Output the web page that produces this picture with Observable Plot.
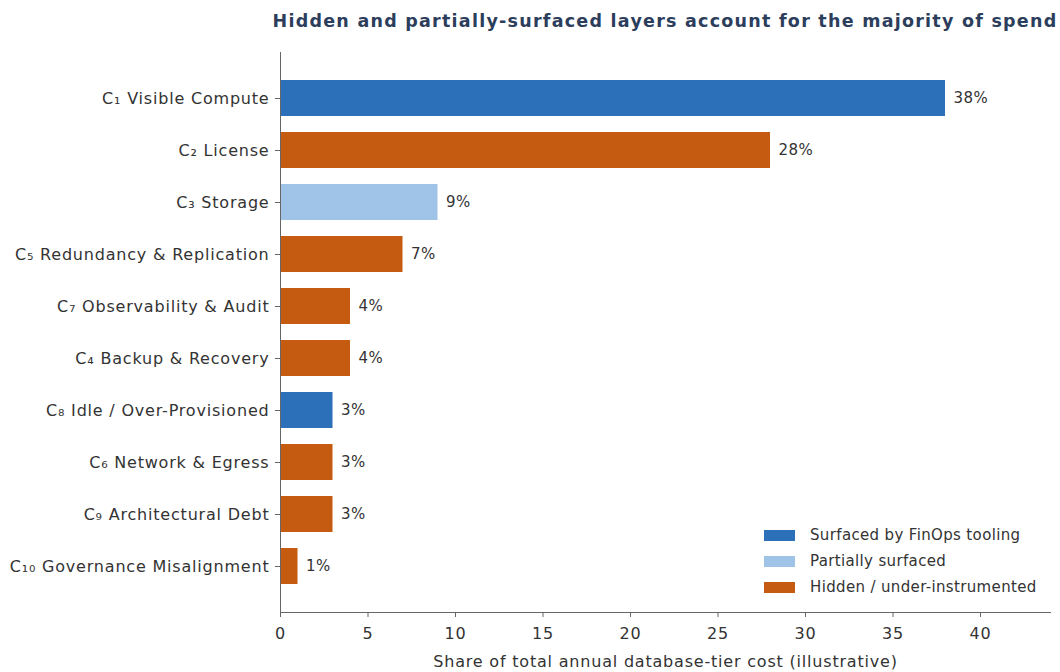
<!DOCTYPE html>
<html>
<head>
<meta charset="utf-8">
<script src="https://cdn.jsdelivr.net/npm/d3@7"></script>
<script src="https://cdn.jsdelivr.net/npm/@observablehq/plot@0.6"></script>
<style>
  html, body { margin: 0; padding: 0; background: #ffffff; }
  body { width: 1060px; height: 672px; overflow: hidden; font-family: "DejaVu Sans", sans-serif; }
  #title { position: relative; height: 40px; }
  #title span { position: absolute; left: 665px; top: 10px; transform: translateX(-50%); white-space: nowrap;
    font-weight: bold; font-size: 17.5px; letter-spacing: 1.25px; color: #2c3e5c; line-height: 22px; }
  #chart { position: relative; }
  #chart svg text { letter-spacing: 0.8px; }
  #chart svg g.vals text { letter-spacing: 0.5px; }
  #legend { position: absolute; left: 764px; top: 482px; font-family: "DejaVu Sans", sans-serif;
    font-size: 15px; letter-spacing: 0.35px; color: #333; }
  #legend .row { display: flex; align-items: center; height: 26px; }
  #legend .sw { width: 31px; height: 11px; margin-right: 15px; }
</style>
</head>
<body>
<div id="title"><span>Hidden and partially-surfaced layers account for the majority of spend</span></div>
<div id="chart"><div id="legend"></div></div>
<script>
const categories = [
  "C\u2081 Visible Compute",
  "C\u2082 License",
  "C\u2083 Storage",
  "C\u2085 Redundancy & Replication",
  "C\u2087 Observability & Audit",
  "C\u2084 Backup & Recovery",
  "C\u2088 Idle / Over-Provisioned",
  "C\u2086 Network & Egress",
  "C\u2089 Architectural Debt",
  "C\u2081\u2080 Governance Misalignment"
];
const values = [38, 28, 9, 7, 4, 4, 3, 3, 3, 1];
const statuses = ["surfaced", "hidden", "partial", "hidden", "hidden", "hidden", "surfaced", "hidden", "hidden", "hidden"];
const statusKeys = ["surfaced", "partial", "hidden"];
const statusLabels = ["Surfaced by FinOps tooling", "Partially surfaced", "Hidden / under-instrumented"];
const statusColors = ["#2b70b8", "#9fc4e7", "#c55a11"];
const xTicks = [0, 5, 10, 15, 20, 25, 30, 35, 40];
const xLabel = "Share of total annual database-tier cost (illustrative)";

const data = categories.map((c, i) => ({cat: c, value: values[i], status: statusLabels[statusKeys.indexOf(statuses[i])]}));

const chart = Plot.plot({
  width: 1060,
  height: 632,
  marginLeft: 280,
  marginRight: 10,
  marginTop: 12,
  marginBottom: 60,
  style: {fontFamily: "DejaVu Sans, sans-serif", fontSize: "16px", color: "#333", background: "#ffffff"},
  x: {domain: [0, 44], ticks: xTicks, label: xLabel, labelAnchor: "center", labelArrow: "none"},
  y: {domain: categories, paddingInner: 0.3, paddingOuter: 0.485, label: null},
  color: {domain: statusLabels, range: statusColors},
  marks: [
    Plot.barX(data, {x: "value", y: "cat", fill: "status"}),
    Plot.text(data, {x: "value", y: "cat", text: d => d.value + "%", dx: 8, textAnchor: "start", fontSize: 15, fill: "#333", className: "vals"}),
    Plot.axisX({ticks: xTicks, tickSize: 5, tickPadding: 10, fontSize: 16, stroke: "#666", label: xLabel, labelAnchor: "center", labelArrow: "none", labelOffset: 54}),
    Plot.axisY({tickSize: 5, tickPadding: 6, fontSize: 16, stroke: "#666", label: null}),
    Plot.frame({anchor: "left", stroke: "#666"}),
    Plot.frame({anchor: "bottom", stroke: "#666"})
  ]
});
document.getElementById("chart").prepend(chart);

const colorScale = chart.scale("color");
const legendDiv = d3.select("#legend");
statusLabels.forEach(label => {
  const row = legendDiv.append("div").attr("class", "row");
  row.append("div").attr("class", "sw").style("background", colorScale.apply(label));
  row.append("span").text(label);
});
</script>
</body>
</html>
